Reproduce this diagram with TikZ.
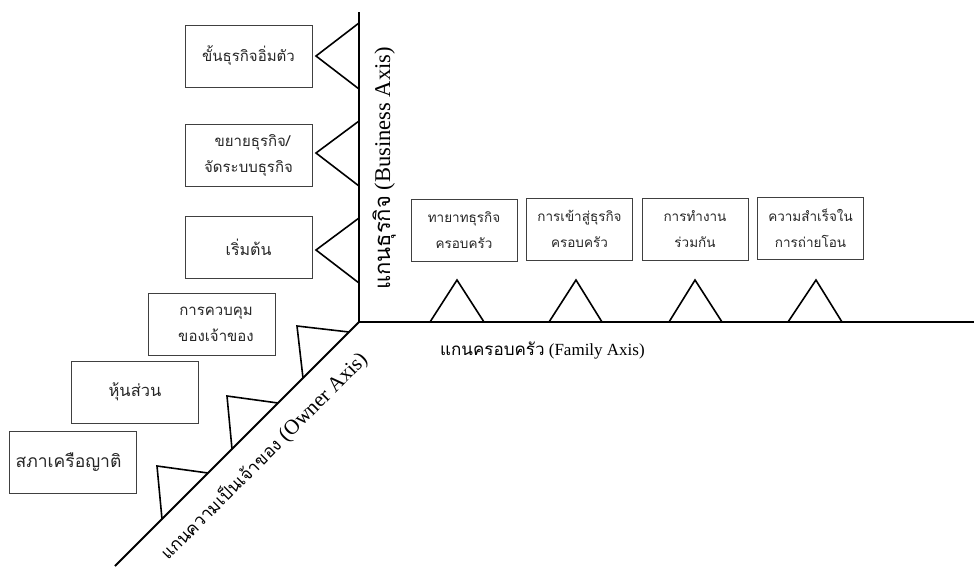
\documentclass[tikz,border=0pt]{standalone}
\usepackage{fontspec}
\setmainfont{Liberation Serif}
\newfontfamily\thai[Script=Thai]{Loma}
\newcommand{\thsz}[1]{\thai\fontsize{#1}{26}\selectfont}
\begin{document}
\begin{tikzpicture}[x=1pt,y=-1pt,
  box/.style={draw=black!75, line width=1pt, minimum width=127pt, minimum height=62pt,
    inner sep=0pt, align=center, font=\thsz{15}, text=black!85},
  fbox/.style={box, minimum width=106pt, font=\thsz{13.5}},
  tri/.style={line width=1.6pt, line join=miter},
  axisline/.style={line width=2pt},
  lab/.style={inner sep=0pt, anchor=base west}]
\useasboundingbox (0,0) rectangle (974,566);
% axes
\coordinate (O) at (359,322);
\coordinate (Btop) at (359,12);
\coordinate (Fend) at (974,322);
\coordinate (Oend) at (115,566);
\draw[line width=2.6pt] (O) -- (Btop);
\draw[axisline] (O) -- (Fend);
\draw[axisline] (O) -- (Oend);
% business triangles
\draw[tri] (359,23) -- (316,56) -- (359,89);
\draw[tri] (359,121) -- (316,153) -- (359,186);
\draw[tri] (359,218) -- (316,250) -- (359,283);
% family triangles
\draw[tri] (430,322) -- (457,280) -- (484,322);
\draw[tri] (549,322) -- (576,280) -- (602,322);
\draw[tri] (669,322) -- (695,280) -- (722,322);
\draw[tri] (788,322) -- (816,280) -- (842,322);
% owner triangles
\draw[tri] (349,332) -- (297,326) -- (303,378);
\draw[tri] (278,403) -- (227,396) -- (232,449);
\draw[tri] (208,473) -- (157,466) -- (162,519);
% business boxes
\node[box] (b1) at (248.5,56) {ขั้นธุรกิจอิ่มตัว};
\node[box] (b2) at (248.5,155) {\hspace*{8pt}ขยายธุรกิจ/\\จัดระบบธุรกิจ};
\node[box, font=\thsz{16}] (b3) at (248.5,247.5) {เริ่มต้น};
% owner boxes
\node[box] (o1) at (212,324) {\hspace*{8pt}การควบคุม\\\hspace*{8pt}ของเจ้าของ};
\node[box, font=\thsz{16.5}] (o2) at (135,392) {หุ้นส่วน};
\node[box, font=\thsz{17.5}] (o3) at (72.5,462.5) {สภาเครือญาติ\hspace*{8pt}};
% family boxes
\node[fbox] (f1) at (464,230.5) {ทายาทธุรกิจ\\ครอบครัว};
\node[fbox] (f2) at (579.5,229) {การเข้าสู่ธุรกิจ\\ครอบครัว};
\node[fbox] (f3) at (695,229) {การทำงาน\\ร่วมกัน};
\node[fbox] (f4) at (810.5,228) {ความสำเร็จใน\\การถ่ายโอน};
% axis labels
\node[lab, rotate=90, font=\fontsize{22.5}{24}\selectfont] (lb) at (390,290)
  {{\thsz{22}แกนธุรกิจ} (Business Axis)};
\node[lab, font=\fontsize{17}{20}\selectfont] (lf) at (440,355)
  {{\thsz{17}แกนครอบครัว} (Family Axis)};
\node[lab, rotate=45, font=\fontsize{21}{24}\selectfont] (lo) at (168,561)
  {{\thsz{17.4}แกนความเป็นเจ้าของ} (Owner Axis)};
\end{tikzpicture}
\end{document}
